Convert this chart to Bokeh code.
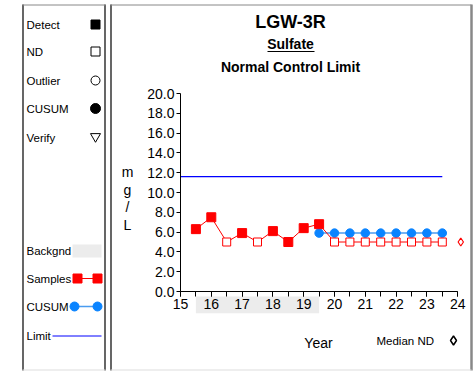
from bokeh.plotting import figure
from bokeh.models import Range1d, LinearAxis, SingleIntervalTicker, NumeralTickFormatter
from bokeh.core.properties import value
from bokeh.embed import file_html
from bokeh.resources import INLINE

# ---------------- data ----------------
sample_years = [15.5, 16.0, 16.5, 17.0, 17.5, 18.0, 18.5, 19.0, 19.5,
                20.0, 20.5, 21.0, 21.5, 22.0, 22.5, 23.0, 23.5]
sample_values = [6.3, 7.5, 5.0, 5.9, 5.0, 6.1, 5.0, 6.4, 6.8,
                 5.0, 5.0, 5.0, 5.0, 5.0, 5.0, 5.0, 5.0]
sample_nd = [False, False, True, False, True, False, False, False, False,
             True, True, True, True, True, True, True, True]
cusum_years = [19.5, 20.0, 20.5, 21.0, 21.5, 22.0, 22.5, 23.0, 23.5]
cusum_values = [5.9, 5.9, 5.9, 5.9, 5.9, 5.9, 5.9, 5.9, 5.9]
limit_years = [15.0, 23.5]
limit_values = [11.6, 11.6]
background_period = [15.5, 19.5]
median_nd_year = [24.1]
median_nd_value = [5.0]
x_bounds = (15, 24)
y_bounds = (0, 20)

title_main = "LGW-3R"
title_param = "Sulfate"
title_method = "Normal Control Limit"
y_label = "m\ng\n/\nL"
x_label = "Year"
legend_symbols = ["Detect", "ND", "Outlier", "CUSUM", "Verify"]
legend_lines = ["Backgnd", "Samples", "CUSUM", "Limit"]

FONT = value("Liberation Sans")
RED = "#ff0000"
BLUE_PT = "#0a84ff"
BLUE_LN = "#4a9cf0"
LIMIT_BLUE = "#0000ff"

# ---------------- figure (pixel coordinates for decorations) ----------------
p = figure(width=476, height=371, x_range=Range1d(0, 476), y_range=Range1d(371, 0),
           x_axis_type=None, y_axis_type=None, toolbar_location=None,
           output_backend="svg", min_border=0, outline_line_color=None)
p.styles = {"position": "absolute", "top": "0px", "left": "0px"}
p.background_fill_color = "white"
p.border_fill_color = "white"

# data scales: year -> px (15 at 180, 24 at 457), value -> px (0 at 291, 20 at 93)
px_per_year = 30.8
px_per_unit = 9.9
p.extra_x_ranges = {"yr": Range1d(15 - 180 / px_per_year, 15 + (476 - 180) / px_per_year)}
p.extra_y_ranges = {"val": Range1d((291 - 371) / px_per_unit, 291 / px_per_unit)}
D = dict(x_range_name="yr", y_range_name="val")

# panel borders
p.segment(x0=[22.5, 104.5, 110.5], y0=[4, 4, 4], x1=[22.5, 104.5, 110.5], y1=[370, 370, 370],
          line_color="black", line_width=1.2)
p.segment(x0=[22, 110], y0=[4.5, 4.5], x1=[105, 471], y1=[4.5, 4.5], line_color="#888888", line_width=1)
p.segment(x0=[471], y0=[4], x1=[471], y1=[370], line_color="#888888", line_width=2.5)
p.segment(x0=[22, 110], y0=[369.5, 369.5], x1=[105, 471], y1=[369.5, 369.5], line_color="#dddddd", line_width=1)

# ---------------- legend panel ----------------
sym_y = [24, 51, 80, 108, 137]
p.text(x=[26] * 5, y=sym_y, text=legend_symbols, text_font=FONT, text_font_size="11.5px",
       text_baseline="middle", text_align="left", text_color="black")
p.scatter(x=[95], y=[24], marker="square", size=9, fill_color="black", line_color="black")
p.scatter(x=[95], y=[51], marker="square", size=9, fill_color="white", line_color="black")
p.scatter(x=[95], y=[80], marker="circle", size=9, fill_color="white", line_color="black")
p.scatter(x=[95], y=[108], marker="circle", size=10, fill_color="black", line_color="black")
p.scatter(x=[95], y=[136], marker="inverted_triangle", size=10, fill_color="white", line_color="black")

line_y = [250, 278, 306, 335]
p.text(x=[26] * 4, y=line_y, text=legend_lines, text_font=FONT, text_font_size="11.5px",
       text_baseline="middle", text_align="left", text_color="black")
p.quad(left=[72], right=[101], top=[244], bottom=[257], fill_color="#ececec", line_color=None)
p.line(x=[77, 97], y=[278, 278], line_color=RED, line_width=1)
p.scatter(x=[77, 97], y=[278, 278], marker="square", size=9, fill_color=RED, line_color=RED)
p.line(x=[74, 97], y=[306, 306], line_color=BLUE_LN, line_width=1.5)
p.scatter(x=[74, 97], y=[306, 306], marker="circle", size=9, fill_color=BLUE_PT, line_color=BLUE_PT)
p.line(x=[52, 101], y=[335.5, 335.5], line_color=LIMIT_BLUE, line_width=1)

# ---------------- titles ----------------
p.text(x=[290], y=[21], text=[title_main], text_font=FONT, text_font_size="18px",
       text_font_style="bold", text_align="center", text_baseline="middle", text_color="black")
p.text(x=[290], y=[43], text=[title_param], text_font=FONT, text_font_size="14px",
       text_font_style="bold", text_align="center", text_baseline="middle", text_color="black")
p.line(x=[267, 314], y=[51, 51], line_color="black", line_width=1.2)
p.text(x=[290], y=[66], text=[title_method], text_font=FONT, text_font_size="14px",
       text_font_style="bold", text_align="center", text_baseline="middle", text_color="black")

p.text(x=[127], y=[198], text=[y_label], text_font=FONT, text_font_size="14px",
       text_align="center", text_baseline="middle", text_line_height=1.1, text_color="black")
p.text(x=[318], y=[342], text=[x_label], text_font=FONT, text_font_size="14px",
       text_align="center", text_baseline="middle", text_color="black")
p.text(x=[376], y=[340], text=["Median ND"], text_font=FONT, text_font_size="11.5px",
       text_align="left", text_baseline="middle", text_color="black")
p.scatter(x=[453], y=[340], marker="diamond", size=9, fill_color="white", line_color="black",
          line_width=1.5)

# ---------------- data layer ----------------
p.quad(left=[background_period[0]], right=[background_period[1]], top=[-0.5], bottom=[-2.2],
       fill_color="#ececec", line_color=None, level="underlay", **D)

p.line(limit_years, limit_values, line_color=LIMIT_BLUE, line_width=1.2, **D)

p.line(cusum_years, cusum_values, line_color=BLUE_LN, line_width=1.5, **D)
p.scatter(cusum_years, cusum_values, marker="circle", size=8.5,
          fill_color=BLUE_PT, line_color=BLUE_PT, **D)

p.line(sample_years, sample_values, line_color=RED, line_width=1, **D)
det_x = [x for x, nd in zip(sample_years, sample_nd) if not nd]
det_y = [v for v, nd in zip(sample_values, sample_nd) if not nd]
nd_x = [x for x, nd in zip(sample_years, sample_nd) if nd]
nd_y = [v for v, nd in zip(sample_values, sample_nd) if nd]
p.scatter(det_x, det_y, marker="square", size=9, fill_color=RED, line_color=RED, **D)
p.scatter(nd_x, nd_y, marker="square", size=8, fill_color="white", line_color=RED,
          line_width=1, **D)
p.scatter(median_nd_year, median_nd_value, marker="diamond", size=8, fill_color="white",
          line_color=RED, line_width=1.2, **D)

# axes
xax = LinearAxis(fixed_location=0, bounds=x_bounds,
                 ticker=SingleIntervalTicker(interval=1, num_minor_ticks=2), **D)
xax.major_tick_out = 5
xax.major_tick_in = 0
xax.minor_tick_out = 5
xax.minor_tick_in = 0
xax.major_label_standoff = 2
xax.major_label_text_font = "Liberation Sans"
xax.major_label_text_font_size = "14px"
xax.major_label_text_color = "black"
xax.axis_line_color = "black"
xax.major_tick_line_color = "black"
xax.minor_tick_line_color = "black"
p.add_layout(xax, "below")

yax = LinearAxis(fixed_location=15, bounds=y_bounds,
                 ticker=SingleIntervalTicker(interval=2, num_minor_ticks=0),
                 formatter=NumeralTickFormatter(format="0.0"), **D)
yax.major_tick_out = 4
yax.major_tick_in = 0
yax.minor_tick_line_color = None
yax.major_label_standoff = 2
yax.major_label_text_font = "Liberation Sans"
yax.major_label_text_font_size = "14px"
yax.major_label_text_color = "black"
yax.axis_line_color = "black"
yax.major_tick_line_color = "black"
p.add_layout(yax, "left")

open("out.html", "w").write(file_html(p, INLINE))
